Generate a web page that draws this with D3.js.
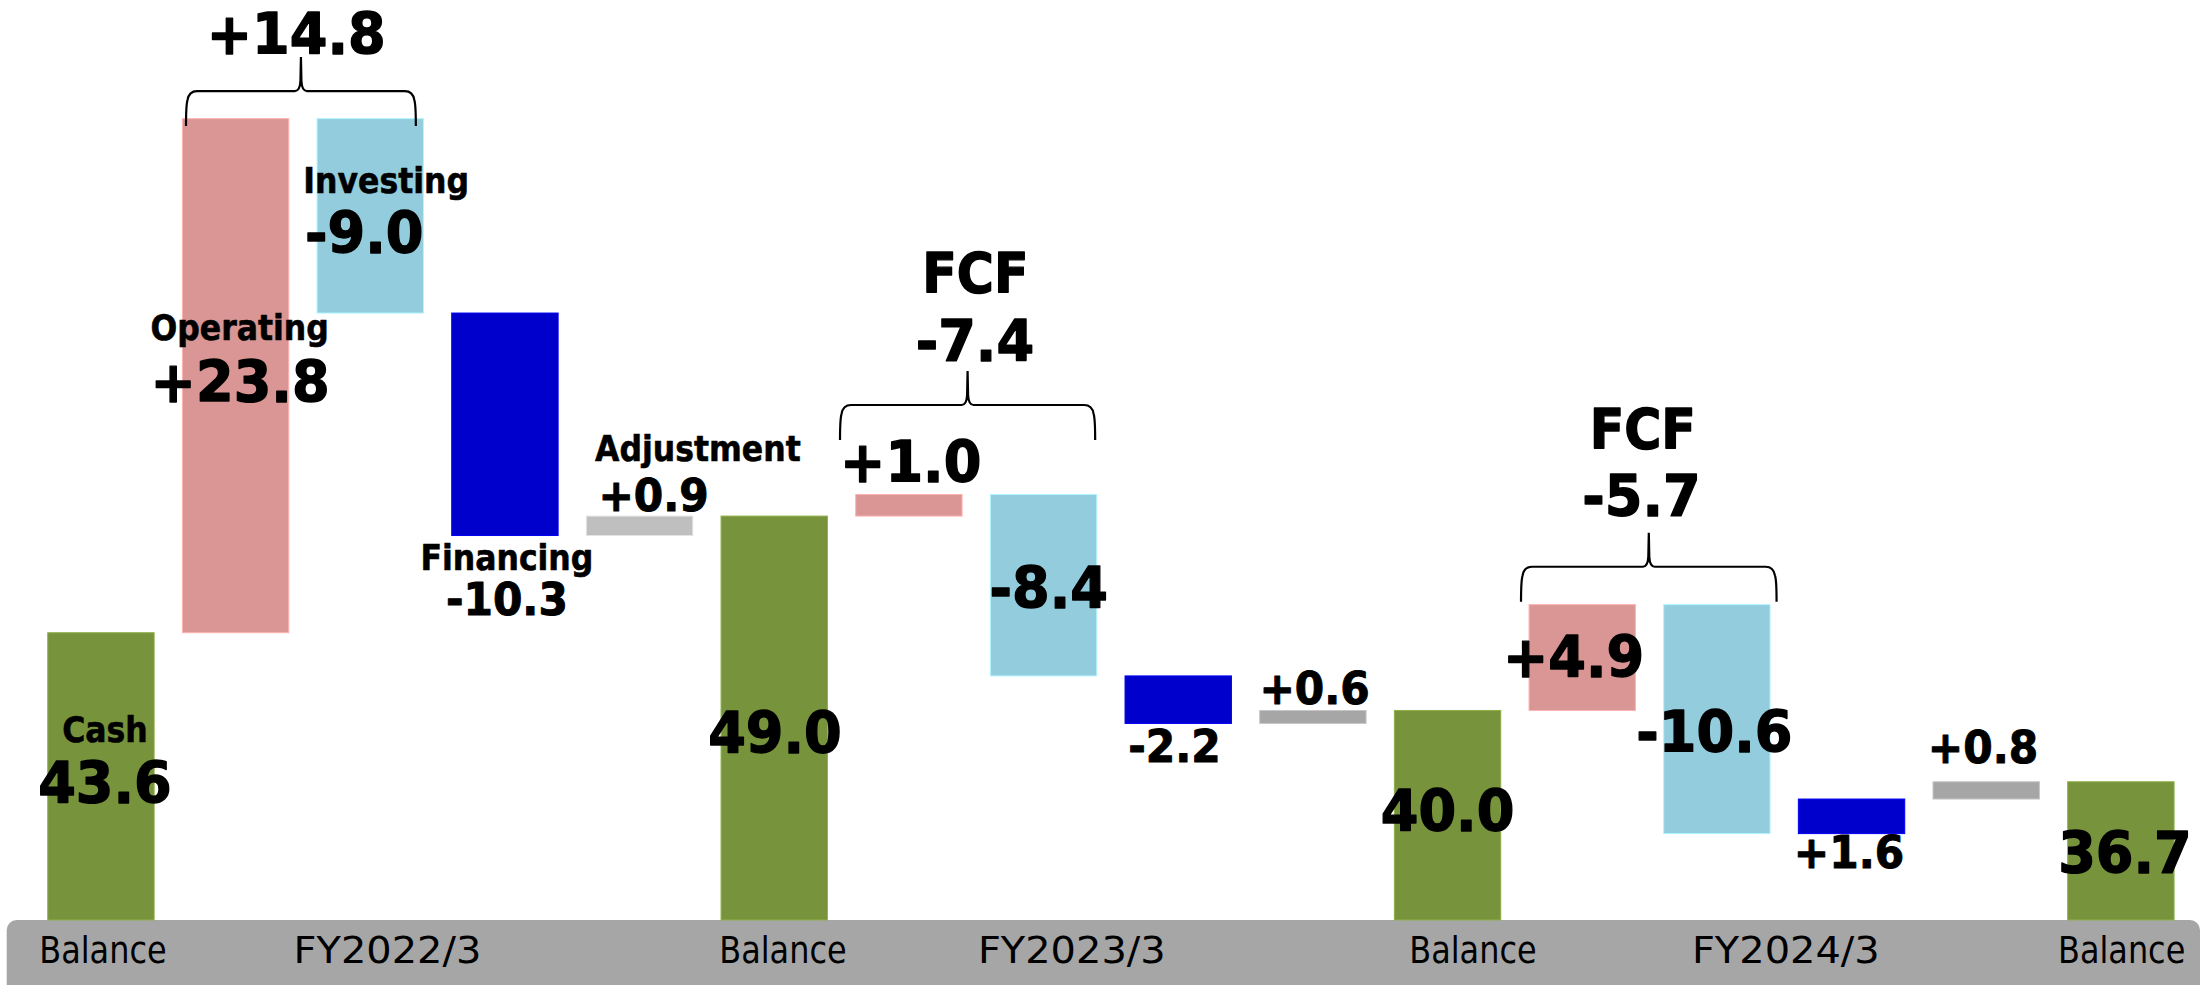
<!DOCTYPE html>
<html>
<head>
<meta charset="utf-8">
<script src="https://cdn.jsdelivr.net/npm/d3@7"></script>
<style>
  body { margin: 0; background: #fff; }
  svg { display: block; font-family: "DejaVu Sans", Verdana, sans-serif; }
</style>
</head>
<body>
<svg id="chart" width="2201" height="985"></svg>
<script>
// ---- data (billion yen) ----
var years = ["FY2022/3", "FY2023/3", "FY2024/3"];
var balances = [43.6, 49.0, 40.0, 36.7];
var operating = [23.8, 1.0, 4.9];
var investing = [-9.0, -8.4, -10.6];
var financing = [-10.3, -2.2, 1.6];
var adjustment = [0.9, 0.6, 0.8];
var fcf = [14.8, -7.4, -5.7];
var flowNames = ["Operating", "Investing", "Financing", "Adjustment"];
var balanceName = "Cash";
var axisWord = "Balance";

// ---- styles / layout ----
var W = 2201, H = 985;
var baseY = 920;               // top of the grey band = bottom of the bars
var colors = {
    bal: "#77933C", op: "#D99694", inv: "#93CDDD", fin: "#0000CC",
    adj: ["#BFBFBF", "#A6A6A6", "#A6A6A6"]
};
var textStyles = {
    big:  {size: 57, weight: "bold", k: 0.95, sw: 1.4},
    mid:  {size: 45, weight: "bold", k: 0.94, sw: 1.0},
    word: {size: 35, weight: "bold", k: 0.90, sw: 0.6},
    fcf:  {size: 55, weight: "bold", k: 0.92, sw: 1.4},
    axW:  {size: 38, weight: "normal", k: 0.84, sw: 0},
    axY:  {size: 38, weight: "normal", k: 1.05, sw: 0}
};
// label offsets: [dx, dy] from bar centre (or left edge when anchor=start) and bar top/bottom
var labelLayout = {
    bal0: {name: [4, 109], value: [4, 170]},
    op0:  {name: [4, 221], value: [4.5, 283]},
    inv0: {anchor: "start", name: [-13.7, 74], value: [-12, 134.7]},
    fin0: {ref: "bottom", size: "mid", name: [2, 34.5], value: [2, 79.5]},
    adj0: {anchor: "start", size: "mid", name: [8.7, -55], value: [12, -5.1]},
    bal1: {value: [0.7, 237]},
    op1:  {value: [1.8, -12.8]},
    inv1: {value: [5.2, 113.8]},
    fin1: {ref: "bottom", size: "mid", value: [-3.8, 38.3]},
    adj1: {size: "mid", value: [1.7, -6.5]},
    bal2: {value: [0, 120.5]},
    op2:  {value: [-8.6, 72.1]},
    inv2: {value: [-2.5, 147.1]},
    fin2: {ref: "bottom", size: "mid", value: [-2.6, 34.7]},
    adj2: {size: "mid", value: [-3.2, -19.1]},
    bal3: {value: [4.1, 91.5]}
};
var braceLayout = [
    {padL: 3.6, padR: -7.6, endOff: 7.4, value: [-4.7, -2.7], word: null},
    {padL: -15.7, padR: -1.6, endOff: -54.5, value: [7.3, -10], word: [7.8, -79]},
    {padL: -8, padR: 6.5, endOff: -2.9, value: [-7.3, -16.6], word: [-6, -85]}
];
var axisLayout = {balDx: [2, 8.7, 25.4, 0.8], yearDx: [17.2, 28.2, 68.9], dy: 43.3};

var fmt = d3.formatLocale({decimal: ".", thousands: ",", grouping: [3], currency: ["", ""], minus: "-"});
var fmtSigned = fmt.format("+.1f"), fmtPlain = fmt.format(".1f");

// ---- build waterfall steps ----
var steps = [];
years.forEach(function (yr, i) {
    steps.push({id: "bal" + i, kind: "bal", y0: null, y1: balances[i], v: balances[i], year: i});
    var run = balances[i];
    [["op", operating[i]], ["inv", investing[i]], ["fin", financing[i]], ["adj", adjustment[i]]]
        .forEach(function (f, j) {
            steps.push({id: f[0] + i, kind: f[0], y0: run, y1: run + f[1], v: f[1], year: i, name: flowNames[j]});
            run += f[1];
        });
});
steps.push({id: "bal3", kind: "bal", y0: null, y1: balances[3], v: balances[3], year: 3});

var x = d3.scaleBand()
    .domain(steps.map(function (d) { return d.id; }))
    .range([33.6, 2188.2])
    .paddingInner(0.21)
    .paddingOuter(0.105);
var y = d3.scaleLinear().domain([30.3, 30.3 + baseY / 21.6]).range([baseY, 0]);

var svg = d3.select("#chart");

// grey category band
svg.append("rect")
    .attr("x", 6.7).attr("y", baseY)
    .attr("width", W - 6.7 - 1).attr("height", 80)
    .attr("rx", 10).attr("ry", 10)
    .attr("fill", "#A6A6A6");

function barTop(d) { return d.kind === "bal" ? y(d.y1) : y(Math.max(d.y0, d.y1)); }
function barBot(d) { return d.kind === "bal" ? baseY : y(Math.min(d.y0, d.y1)); }
function barColor(d) { return d.kind === "adj" ? colors.adj[d.year] : colors[d.kind]; }

svg.append("g").selectAll("rect")
    .data(steps)
    .join("rect")
    .attr("x", function (d) { return x(d.id); })
    .attr("y", barTop)
    .attr("width", x.bandwidth())
    .attr("height", function (d) { return barBot(d) - barTop(d); })
    .attr("fill", barColor)
    .attr("stroke", function (d) { return d3.color(barColor(d)).brighter(0.5); })
    .attr("stroke-width", 1);

// text helper: draw and squeeze horizontally to the slide's narrow face
function addText(g, str, cls, px, py, anchor) {
    var st = textStyles[cls];
    var t = g.append("text")
        .attr("x", px).attr("y", py)
        .attr("text-anchor", anchor || "middle")
        .attr("font-size", st.size)
        .attr("font-weight", st.weight)
        .attr("fill", "#000")
        .text(str);
    if (st.sw) t.attr("stroke", "#000").attr("stroke-width", st.sw).attr("stroke-linejoin", "round");
    var w = t.node().getComputedTextLength();
    t.attr("textLength", w * st.k).attr("lengthAdjust", "spacingAndGlyphs");
    return t;
}

var labels = svg.append("g");
steps.forEach(function (d) {
    var L = labelLayout[d.id];
    if (!L) return;
    var anchor = L.anchor || "middle";
    var bx = anchor === "start" ? x(d.id) : x(d.id) + x.bandwidth() / 2;
    var by = L.ref === "bottom" ? barBot(d) : barTop(d);
    var valStr = d.kind === "bal" ? fmtPlain(d.v) : fmtSigned(d.v);
    if (L.name) {
        var nm = d.kind === "bal" ? balanceName : d.name;
        addText(labels, nm, "word", bx + L.name[0], by + L.name[1], anchor);
    }
    addText(labels, valStr, L.size || "big", bx + L.value[0], by + L.value[1], anchor);
});

// curly braces over operating + investing (free cash flow)
var braces = svg.append("g");
years.forEach(function (yr, i) {
    var B = braceLayout[i];
    var op = steps.find(function (d) { return d.id === "op" + i; });
    var inv = steps.find(function (d) { return d.id === "inv" + i; });
    var xl = x(op.id) + B.padL;
    var xr = x(inv.id) + x.bandwidth() + B.padR;
    var xm = (xl + xr) / 2;
    var yb = Math.min(barTop(op), barTop(inv)) + B.endOff;
    var yh = yb - 35, yt = yb - 69, r = 9;
    var p = d3.path();
    p.moveTo(xl, yb);
    p.bezierCurveTo(xl, yb - 12, xl, yh + 14, xl + 1.5, yh + r);
    p.quadraticCurveTo(xl + 3, yh, xl + r + 2, yh);
    p.lineTo(xm - 6, yh);
    p.quadraticCurveTo(xm - 1, yh, xm - 0.5, yh - 10);
    p.lineTo(xm, yt);
    p.lineTo(xm + 0.5, yh - 10);
    p.quadraticCurveTo(xm + 1, yh, xm + 6, yh);
    p.lineTo(xr - r - 2, yh);
    p.quadraticCurveTo(xr - 3, yh, xr - 1.5, yh + r);
    p.bezierCurveTo(xr, yh + 14, xr, yb - 12, xr, yb);
    braces.append("path")
        .attr("d", p.toString())
        .attr("fill", "none")
        .attr("stroke", "#000")
        .attr("stroke-width", 2.2);
    addText(braces, fmtSigned(fcf[i]), "big", xm + B.value[0], yt + B.value[1]);
    if (B.word) addText(braces, "FCF", "fcf", xm + B.word[0], yt + B.word[1]);
});

// category labels in the band
var axisG = svg.append("g");
steps.filter(function (d) { return d.kind === "bal"; }).forEach(function (d, k) {
    addText(axisG, axisWord, "axW", x(d.id) + x.bandwidth() / 2 + axisLayout.balDx[k], baseY + axisLayout.dy);
});
years.forEach(function (yr, i) {
    var id = "inv" + i;
    addText(axisG, yr, "axY", x(id) + x.bandwidth() / 2 + axisLayout.yearDx[i], baseY + axisLayout.dy);
});
</script>
</body>
</html>
